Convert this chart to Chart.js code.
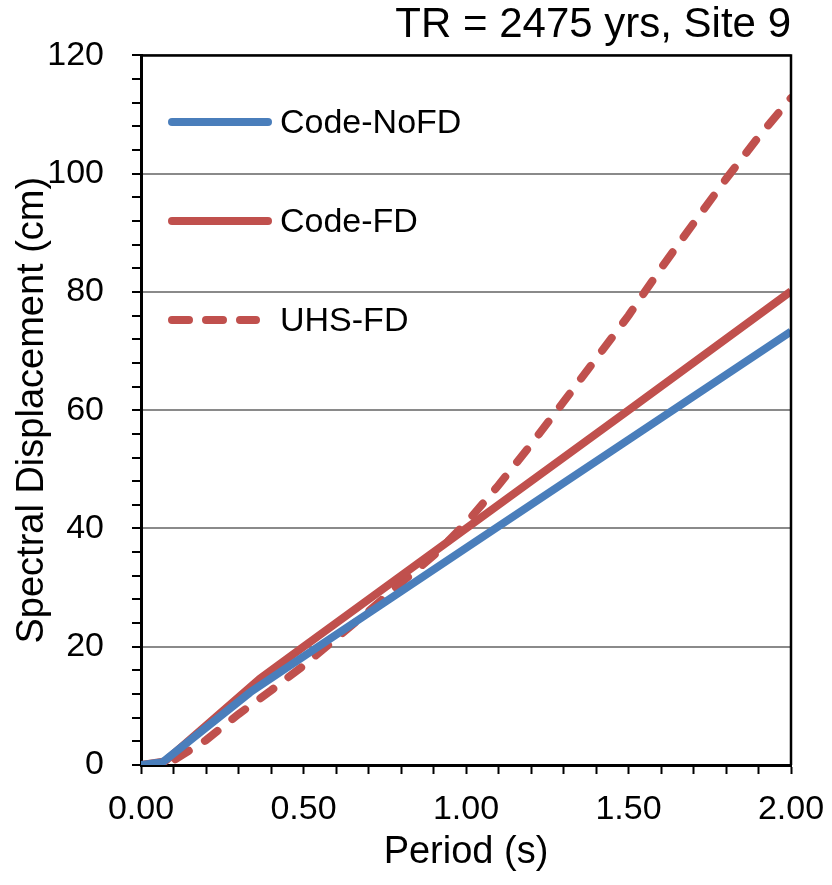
<!DOCTYPE html>
<html>
<head>
<meta charset="utf-8">
<script src="https://cdn.jsdelivr.net/npm/chart.js@4.4.1/dist/chart.umd.min.js"></script>
<style>
  html, body { margin: 0; padding: 0; background: #fff; }
  canvas { display: block; }
</style>
</head>
<body>
<canvas id="chart" width="832" height="885"></canvas>
<script>
// spectra
const chartTitle = 'TR = 2475 yrs, Site 9';
const seriesLabels = ['Code-NoFD', 'Code-FD', 'UHS-FD'];

const periodNoFD = [0, 0.067, 0.336, 0.5, 1.0, 1.5, 2.0];
const sdNoFD     = [0, 0.49, 12.3, 18.35, 36.7, 55.0, 73.3];

const periodFD = [0, 0.073, 0.366, 0.5, 1.0, 1.5, 2.0];
const sdFD     = [0, 0.59, 14.6, 20.0, 40.0, 60.0, 80.1];

const periodUHS = [0, 0.05, 0.1, 0.2, 0.3, 0.4, 0.5, 0.6, 0.7, 0.8, 0.9, 1.0,
                   1.1, 1.2, 1.3, 1.4, 1.5, 1.6, 1.7, 1.8, 1.9, 2.0];
const sdUHS     = [0, 0.1, 0.8, 4.2, 8.6, 12.6, 16.8, 21.4, 26.0, 30.8, 35.4, 40.9,
                   47.3, 54.2, 61.4, 68.7, 76.0, 84.0, 91.6, 99.1, 106.2, 112.8];

const yTicksMajor = [0, 20, 40, 60, 80, 100, 120];
const xTicksMajor = [0, 0.5, 1.0, 1.5, 2.0];

const BLUE = '#4a7ebb';
const RED = '#c0504d';
const FONT = 'Arial, "Liberation Sans", sans-serif';

const toPoints = (xs, ys) => xs.map((x, i) => ({ x: x, y: ys[i] }));

// legend drawn inside the plot area, upper left
const insideLegend = {
  id: 'insideLegend',
  afterDraw(chart) {
    const ctx = chart.ctx;
    ctx.save();
    ctx.font = '34px ' + FONT;
    ctx.textBaseline = 'middle';
    ctx.fillStyle = '#000';
    chart.data.datasets.forEach((ds, i) => {
      const y = 122 + i * 99;
      ctx.beginPath();
      ctx.lineWidth = 8;
      ctx.lineCap = 'round';
      ctx.strokeStyle = ds.borderColor;
      if (ds.borderDash) {
        ctx.setLineDash([17, 17]);
        ctx.moveTo(172, y);
        ctx.lineTo(256, y);
      } else {
        ctx.setLineDash([]);
        ctx.moveTo(172, y);
        ctx.lineTo(268, y);
      }
      ctx.stroke();
      ctx.setLineDash([]);
      ctx.fillText(ds.label, 280, y + 2);
    });
    ctx.restore();
  }
};

// top and right edges of the plot box
const plotFrame = {
  id: 'plotFrame',
  afterDatasetsDraw(chart) {
    const a = chart.chartArea;
    const ctx = chart.ctx;
    ctx.save();
    ctx.strokeStyle = '#000';
    ctx.lineWidth = 2.5;
    ctx.beginPath();
    ctx.moveTo(a.left, a.top);
    ctx.lineTo(a.right, a.top);
    ctx.lineTo(a.right, a.bottom);
    ctx.stroke();
    ctx.restore();
  }
};

Chart.defaults.font.family = FONT;
Chart.defaults.color = '#000';

new Chart(document.getElementById('chart'), {
  type: 'line',
  data: {
    datasets: [
      {
        label: seriesLabels[0],
        data: toPoints(periodNoFD, sdNoFD),
        borderColor: BLUE,
        borderWidth: 8,
        pointRadius: 0,
        tension: 0
      },
      {
        label: seriesLabels[1],
        data: toPoints(periodFD, sdFD),
        borderColor: RED,
        borderWidth: 8,
        pointRadius: 0,
        tension: 0
      },
      {
        label: seriesLabels[2],
        data: toPoints(periodUHS, sdUHS),
        borderColor: RED,
        borderWidth: 8,
        borderDash: [16, 19],
        borderCapStyle: 'round',
        pointRadius: 0,
        tension: 0
      }
    ]
  },
  options: {
    responsive: false,
    animation: false,
    layout: { padding: { left: 0, right: 41, top: 0, bottom: 0 } },
    plugins: {
      legend: { display: false },
      tooltip: { enabled: false },
      title: {
        display: true,
        text: chartTitle,
        align: 'end',
        color: '#000',
        font: { size: 42, weight: 'normal' },
        padding: { top: 0, bottom: 5 }
      }
    },
    scales: {
      x: {
        type: 'linear',
        min: 0,
        max: 2,
        afterFit: s => { s.height = 120; s.paddingLeft = 0; s.paddingRight = 0; },
        border: { color: '#000', width: 3 },
        grid: {
          color: 'transparent',
          tickColor: '#000',
          tickWidth: 2,
          tickLength: 9
        },
        ticks: {
          stepSize: 0.1,
          maxTicksLimit: 100,
          autoSkip: false,
          maxRotation: 0,
          padding: 15,
          font: { size: 34 },
          callback: v => {
            const r = Math.round(v * 100) / 100;
            return xTicksMajor.some(t => Math.abs(t - r) < 1e-6) ? r.toFixed(2) : '';
          }
        },
        title: {
          display: true,
          text: 'Period (s)',
          font: { size: 38 },
          padding: { top: 0, bottom: 10 }
        }
      },
      y: {
        min: 0,
        max: 120,
        afterFit: s => { s.width = 141; s.paddingTop = 0; s.paddingBottom = 0; },
        border: { color: '#000', width: 3 },
        grid: {
          color: c => yTicksMajor.includes(c.tick.value) ? '#8a8a8a' : 'transparent',
          lineWidth: 2,
          tickColor: '#000',
          tickWidth: 2,
          tickLength: 9
        },
        ticks: {
          stepSize: 4,
          maxTicksLimit: 100,
          autoSkip: false,
          padding: 28,
          font: { size: 34 },
          callback: v => yTicksMajor.includes(v) ? String(v) : ''
        },
        title: {
          display: true,
          text: 'Spectral Displacement (cm)',
          font: { size: 38 },
          padding: { top: 10, bottom: 0 }
        }
      }
    }
  },
  plugins: [insideLegend, plotFrame]
});
</script>
</body>
</html>
